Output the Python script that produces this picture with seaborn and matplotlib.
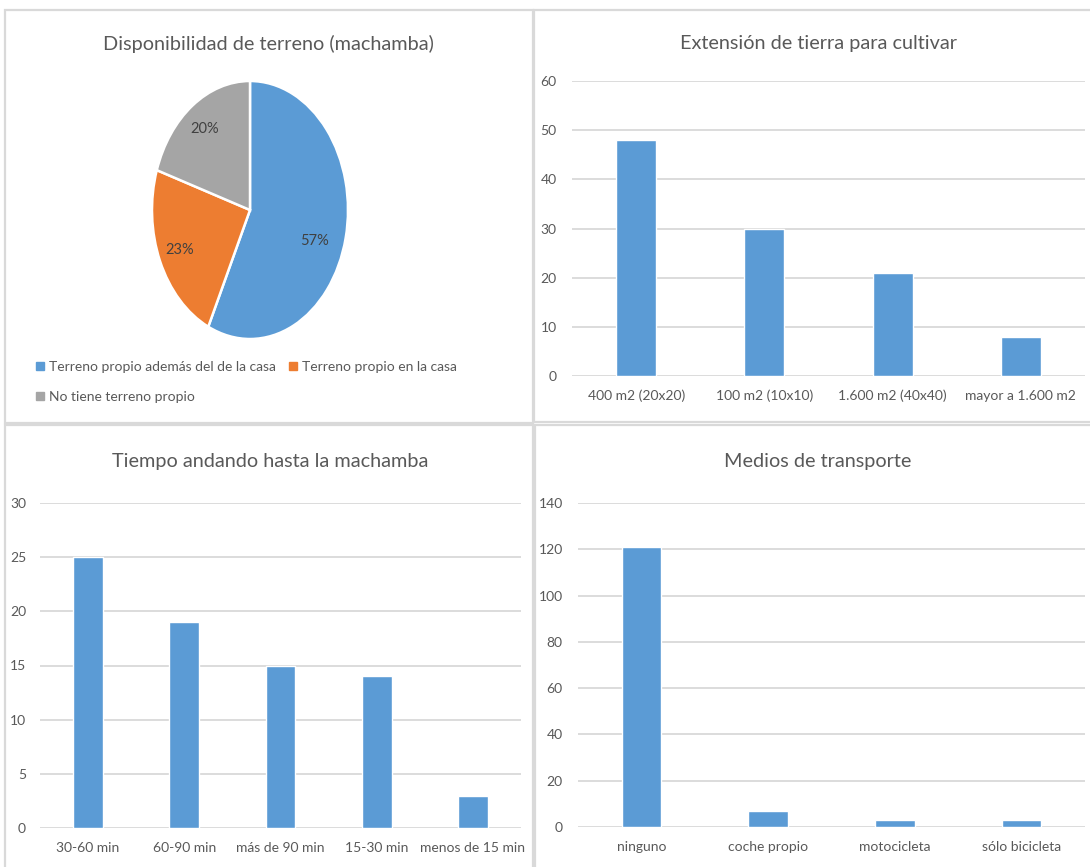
import matplotlib
matplotlib.use("Agg")
import matplotlib.pyplot as plt
from matplotlib.patches import Rectangle
from matplotlib.lines import Line2D
import numpy as np
import seaborn as sns

# ---- data ----
pie_labels = ["Terreno propio además del de la casa", "Terreno propio en la casa", "No tiene terreno propio"]
pie_values = [57, 23, 20]

ext_cats = ["400 m2 (20x20)", "100 m2 (10x10)", "1.600 m2 (40x40)", "mayor a 1.600 m2"]
ext_vals = [48, 30, 21, 8]

tiempo_cats = ["30-60 min", "60-90 min", "más de 90 min", "15-30 min", "menos de 15 min"]
tiempo_vals = [25, 19, 15, 14, 3]

transp_cats = ["ninguno", "coche propio", "motocicleta", "sólo bicicleta"]
transp_vals = [121, 7, 3, 3]

titles = ["Disponibilidad de terreno (machamba)", "Extensión de tierra para cultivar",
          "Tiempo andando hasta la machamba", "Medios de transporte"]

# ---- style ----
BLUE, ORANGE, GRAY = "#5B9BD5", "#ED7D31", "#A5A5A5"
TEXT = "#595959"
GRID = "#D9D9D9"

sns.set_style("white")
plt.rcParams["font.family"] = ["Lato", "DejaVu Sans"]

W, H = 1090, 867
fig = plt.figure(figsize=(W / 100, H / 100), dpi=100)


def box(x0, y0, x1, y1):
    return [x0 / W, 1 - y1 / H, (x1 - x0) / W, (y1 - y0) / H]


# panel frames
for (x0, y0, x1, y1) in [(5, 10, 533, 423), (534, 10, 1096, 422),
                         (5, 425, 533, 872), (535, 425, 1096, 872)]:
    fig.add_artist(Rectangle((x0 / W, 1 - y1 / H), (x1 - x0) / W, (y1 - y0) / H,
                             transform=fig.transFigure, fill=False,
                             edgecolor=GRID, linewidth=1.6))

# titles
for t, (cx, cy) in zip(titles, [(268, 44), (818, 44), (270, 462), (818, 462)]):
    fig.text(cx / W, 1 - cy / H, t, ha="center", va="center", fontsize=14.3, color=TEXT)

# ---- pie ----
axp = fig.add_axes(box(152, 81, 348, 339))
wedges, texts, autotexts = axp.pie(
    pie_values, colors=[BLUE, ORANGE, GRAY], startangle=90, counterclock=False,
    autopct=lambda p: f"{p:.0f}%", pctdistance=0.78,
    wedgeprops=dict(edgecolor="white", linewidth=1.8),
    textprops=dict(color="#404040", fontsize=10.5))
axp.set_aspect("auto")
axp.set_xlim(-1, 1)
axp.set_ylim(-1, 1)
# the largest slice's label sits a little lower and further in
ang = np.deg2rad(-20)
autotexts[0].set_position((0.7 * np.cos(ang), 0.7 * np.sin(ang)))

handles = [Line2D([], [], marker="s", linestyle="none", markersize=5.5,
                  markerfacecolor=c, markeredgecolor=c) for c in (BLUE, GRAY, ORANGE)]
fig.legend(handles, [pie_labels[0], pie_labels[2], pie_labels[1]],
           loc="upper left", bbox_to_anchor=(29 / W, 1 - 354 / H), ncol=2,
           frameon=False, fontsize=10, labelcolor=TEXT, handlelength=0.6,
           handletextpad=0.35, columnspacing=0.9, labelspacing=1.3, borderpad=0)


# ---- bar charts ----
def bars(rect, cats, vals, ymax, step, pad_y):
    ax = fig.add_axes(rect)
    sns.barplot(x=cats, y=vals, color=BLUE, saturation=1, width=0.31, ax=ax)
    ax.set_ylim(0, ymax)
    ax.set_xlim(-0.5, len(cats) - 0.5)
    ax.set_yticks(range(0, ymax + 1, step))
    ax.yaxis.grid(True, color=GRID, linewidth=1.3)
    ax.set_axisbelow(True)
    for s in ax.spines.values():
        s.set_visible(False)
    ax.tick_params(axis="both", length=0, labelsize=10, labelcolor=TEXT)
    ax.tick_params(axis="y", pad=pad_y)
    ax.tick_params(axis="x", pad=10)
    ax.set_xlabel("")
    ax.set_ylabel("")
    return ax


bars(box(572, 81, 1085, 376), ext_cats, ext_vals, 60, 10, 11)
bars(box(40, 503, 521, 828), tiempo_cats, tiempo_vals, 30, 5, 10)
bars(box(578, 503, 1085, 827), transp_cats, transp_vals, 140, 20, 11)

fig.savefig("out.png", dpi=100, facecolor="white")
